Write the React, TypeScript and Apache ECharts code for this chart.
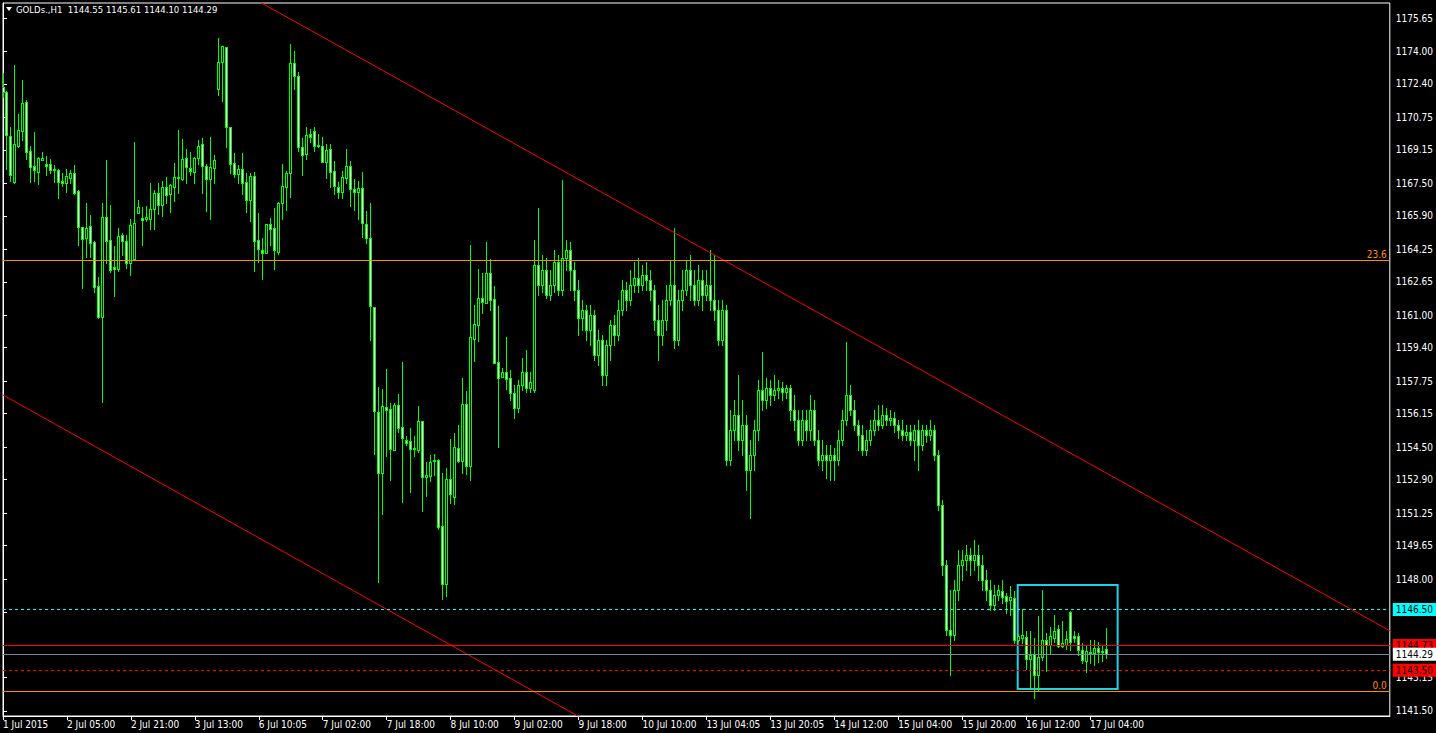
import React, { useEffect, useRef } from "react";
import * as echarts from "echarts";

const titleText = "GOLDs.,H1  1144.55 1145.61 1144.10 1144.29";

const openPrices = [
  1172.24, 1172.01, 1169.84, 1167.57, 1169.36, 1170.10, 1171.51, 1169.08, 1168.36, 1168.08,
  1168.67, 1168.46, 1168.44, 1168.20, 1168.16, 1167.62, 1167.53, 1167.78, 1168.00, 1167.13,
  1165.34, 1164.82, 1165.39, 1164.61, 1162.43, 1160.90, 1165.83, 1164.71, 1163.38, 1163.27,
  1164.96, 1164.65, 1163.56, 1163.79, 1166.06, 1165.80, 1165.75, 1165.76, 1166.22, 1167.01,
  1166.45, 1167.31, 1166.99, 1167.34, 1167.78, 1167.73, 1168.74, 1168.24, 1168.08, 1168.74,
  1169.43, 1168.34, 1167.70, 1168.24, 1172.14, 1173.50, 1174.21, 1170.27, 1168.49, 1167.98,
  1168.20, 1167.55, 1166.70, 1167.87, 1164.70, 1164.22, 1164.06, 1165.48, 1165.29, 1164.13,
  1166.55, 1167.34, 1168.00, 1173.43, 1172.81, 1169.28, 1168.94, 1169.94, 1170.07, 1169.38,
  1169.33, 1168.57, 1169.20, 1168.10, 1167.31, 1167.08, 1167.78, 1168.34, 1167.22, 1167.09,
  1167.26, 1165.48, 1164.79, 1161.39, 1156.25, 1153.21, 1156.46, 1156.37, 1154.35, 1156.56,
  1155.48, 1154.85, 1154.79, 1154.46, 1154.36, 1155.77, 1153.01, 1153.09, 1153.82, 1153.87,
  1150.61, 1147.74, 1152.92, 1152.06, 1154.44, 1153.83, 1156.63, 1153.59, 1159.85, 1160.52,
  1161.84, 1161.62, 1163.07, 1161.79, 1158.68, 1157.97, 1158.19, 1157.91, 1157.17, 1156.43,
  1157.56, 1158.20, 1157.42, 1157.32, 1163.48, 1162.49, 1163.23, 1162.00, 1162.49, 1163.63,
  1162.25, 1163.82, 1164.22, 1163.23, 1162.25, 1160.87, 1161.26, 1160.27, 1161.01, 1159.04,
  1159.78, 1158.06, 1159.54, 1160.52, 1160.03, 1161.26, 1162.25, 1161.75, 1162.49, 1162.84,
  1162.49, 1162.99, 1162.74, 1162.25, 1160.77, 1160.03, 1160.77, 1161.75, 1162.49, 1159.78,
  1161.75, 1162.25, 1163.23, 1162.49, 1161.75, 1162.74, 1162.00, 1162.49, 1161.75, 1161.26,
  1159.78, 1161.26, 1153.87, 1155.35, 1156.09, 1154.85, 1155.59, 1153.37, 1154.11, 1155.35,
  1157.32, 1156.82, 1157.42, 1157.07, 1157.32, 1157.42, 1157.22, 1157.42, 1156.33, 1155.84,
  1154.85, 1155.84, 1155.35, 1156.33, 1154.85, 1153.87, 1154.11, 1153.87, 1154.11, 1153.87,
  1154.85, 1155.84, 1157.07, 1156.33, 1155.59, 1155.10, 1154.36, 1154.85, 1155.35, 1155.84,
  1155.59, 1156.09, 1155.84, 1155.94, 1155.59, 1155.35, 1155.10, 1155.25, 1154.85, 1155.35,
  1154.61, 1155.35, 1155.10, 1155.35, 1154.11, 1151.65, 1148.69, 1145.49, 1145.24, 1147.46,
  1148.69, 1148.94, 1149.18, 1148.94, 1149.18, 1148.69, 1147.95, 1147.46, 1146.72, 1147.21,
  1147.41, 1147.16, 1146.97, 1147.05, 1144.99, 1145.11, 1145.13, 1144.04, 1144.30, 1143.25,
  1144.14, 1144.98, 1144.76, 1145.11, 1145.52, 1144.70, 1144.76, 1146.38, 1145.19, 1145.18,
  1144.49, 1143.95, 1144.40, 1144.37, 1144.60, 1144.45, 1144.55,
];

const closePrices = [
  1172.01, 1169.87, 1167.93, 1169.44, 1170.13, 1171.46, 1169.06, 1168.32, 1168.18, 1168.75,
  1168.75, 1168.37, 1168.15, 1168.15, 1167.58, 1167.52, 1167.87, 1168.00, 1167.04, 1165.34,
  1164.78, 1165.30, 1164.58, 1162.41, 1160.93, 1165.83, 1164.68, 1163.23, 1163.28, 1164.89,
  1164.68, 1163.56, 1165.43, 1165.53, 1166.34, 1165.71, 1165.84, 1166.22, 1167.01, 1166.45,
  1167.32, 1166.94, 1167.42, 1167.80, 1167.82, 1168.69, 1168.29, 1168.10, 1168.75, 1169.34,
  1168.34, 1167.70, 1168.29, 1168.64, 1173.50, 1174.27, 1170.27, 1168.44, 1167.98, 1168.20,
  1167.53, 1166.70, 1167.87, 1164.65, 1164.25, 1164.06, 1165.48, 1165.27, 1164.20, 1166.53,
  1167.36, 1168.01, 1173.43, 1172.81, 1169.31, 1168.92, 1169.87, 1169.79, 1169.36, 1169.34,
  1168.57, 1169.13, 1168.08, 1167.36, 1167.08, 1167.82, 1168.34, 1167.21, 1167.09, 1167.26,
  1165.53, 1164.79, 1161.47, 1156.30, 1153.24, 1156.51, 1156.35, 1154.39, 1156.58, 1155.43,
  1154.94, 1154.69, 1154.42, 1154.39, 1155.77, 1153.01, 1153.11, 1153.75, 1153.87, 1150.58,
  1147.74, 1152.92, 1152.18, 1154.49, 1153.83, 1156.63, 1153.59, 1159.92, 1160.56, 1161.84,
  1161.67, 1163.07, 1161.74, 1158.63, 1157.89, 1158.19, 1157.87, 1157.17, 1156.43, 1157.56,
  1158.20, 1157.42, 1157.71, 1163.48, 1162.49, 1163.23, 1162.00, 1162.49, 1163.63, 1162.25,
  1163.82, 1164.22, 1163.23, 1162.25, 1160.87, 1161.26, 1160.27, 1161.01, 1159.04, 1159.78,
  1158.06, 1159.54, 1160.52, 1160.03, 1161.26, 1162.25, 1161.75, 1162.49, 1162.84, 1162.49,
  1162.99, 1162.74, 1162.25, 1160.77, 1160.03, 1160.77, 1161.75, 1162.49, 1159.78, 1161.75,
  1162.25, 1163.23, 1162.49, 1161.75, 1162.74, 1162.00, 1162.49, 1161.75, 1161.26, 1159.78,
  1161.26, 1153.87, 1155.35, 1156.09, 1154.85, 1155.59, 1153.37, 1154.11, 1155.35, 1157.32,
  1156.82, 1157.42, 1157.07, 1157.32, 1157.42, 1157.22, 1157.42, 1156.33, 1155.84, 1154.85,
  1155.84, 1155.35, 1156.33, 1154.85, 1153.87, 1154.11, 1153.87, 1154.11, 1153.87, 1154.85,
  1155.84, 1157.07, 1156.33, 1155.59, 1155.10, 1154.36, 1154.85, 1155.35, 1155.84, 1155.59,
  1156.09, 1155.84, 1155.94, 1155.59, 1155.35, 1155.10, 1155.25, 1154.85, 1155.35, 1154.61,
  1155.35, 1155.10, 1155.35, 1154.11, 1151.65, 1148.69, 1145.49, 1145.24, 1147.46, 1148.69,
  1148.94, 1149.18, 1148.94, 1149.18, 1148.69, 1147.95, 1147.46, 1146.72, 1147.21, 1147.46,
  1147.13, 1146.93, 1147.11, 1144.99, 1145.19, 1145.23, 1144.04, 1144.24, 1143.25, 1144.14,
  1144.98, 1144.76, 1145.18, 1145.42, 1144.70, 1144.83, 1145.03, 1144.90, 1145.11, 1144.49,
  1144.01, 1144.44, 1144.37, 1144.60, 1144.42, 1144.42, 1144.29,
];

const lowPrices = [
  1171.77, 1168.22, 1167.63, 1167.53, 1169.31, 1169.64, 1168.70, 1167.58, 1167.63, 1167.49,
  1168.67, 1167.93, 1168.03, 1167.57, 1166.80, 1167.39, 1167.08, 1167.53, 1166.98, 1164.46,
  1162.36, 1163.87, 1163.87, 1162.16, 1160.87, 1156.73, 1163.56, 1163.15, 1161.97, 1163.20,
  1163.96, 1163.32, 1162.99, 1163.79, 1166.06, 1164.46, 1165.66, 1165.25, 1165.25, 1165.99,
  1165.89, 1166.52, 1166.09, 1166.63, 1167.04, 1167.68, 1167.53, 1167.93, 1167.53, 1168.47,
  1167.03, 1166.14, 1165.76, 1167.53, 1171.86, 1171.58, 1169.31, 1168.03, 1167.82, 1167.53,
  1166.99, 1166.11, 1165.66, 1163.20, 1163.64, 1162.77, 1164.06, 1164.46, 1163.30, 1164.02,
  1165.76, 1166.20, 1166.84, 1172.15, 1169.10, 1167.93, 1168.69, 1169.53, 1169.08, 1169.31,
  1168.56, 1167.75, 1167.31, 1166.99, 1166.80, 1166.80, 1167.53, 1166.39, 1166.19, 1165.75,
  1164.87, 1164.55, 1159.78, 1154.16, 1147.87, 1151.20, 1154.08, 1152.90, 1154.35, 1155.26,
  1151.81, 1154.61, 1152.30, 1154.08, 1154.28, 1151.37, 1152.11, 1152.85, 1153.13, 1150.47,
  1147.00, 1147.18, 1151.76, 1151.70, 1153.75, 1153.21, 1153.18, 1152.88, 1158.76, 1159.75,
  1161.13, 1161.62, 1161.26, 1158.63, 1154.52, 1157.97, 1157.38, 1156.82, 1155.94, 1156.23,
  1157.32, 1157.22, 1157.22, 1157.22, 1162.00, 1162.15, 1161.85, 1161.75, 1162.15, 1162.00,
  1162.00, 1163.23, 1162.25, 1161.75, 1160.03, 1160.27, 1159.78, 1159.54, 1158.80, 1158.55,
  1157.56, 1157.56, 1158.80, 1159.54, 1159.78, 1161.01, 1161.26, 1161.51, 1162.15, 1162.15,
  1162.25, 1162.25, 1161.75, 1160.27, 1158.80, 1159.54, 1160.27, 1161.51, 1159.39, 1159.54,
  1161.26, 1162.00, 1161.75, 1161.51, 1161.51, 1161.26, 1161.75, 1161.26, 1160.77, 1159.54,
  1159.54, 1153.62, 1153.62, 1154.85, 1154.36, 1154.11, 1152.39, 1151.01, 1153.37, 1154.85,
  1156.33, 1156.43, 1156.58, 1156.82, 1156.92, 1156.82, 1156.92, 1155.84, 1155.35, 1154.61,
  1154.61, 1154.85, 1154.85, 1154.61, 1153.62, 1153.37, 1152.98, 1152.88, 1152.88, 1153.62,
  1154.61, 1155.59, 1156.09, 1155.35, 1154.36, 1154.11, 1154.11, 1154.61, 1155.10, 1155.35,
  1155.44, 1155.59, 1155.59, 1155.25, 1154.95, 1154.85, 1154.85, 1154.61, 1153.87, 1153.37,
  1154.36, 1154.75, 1154.85, 1153.87, 1151.40, 1148.20, 1145.24, 1143.27, 1144.99, 1146.97,
  1147.95, 1148.44, 1148.20, 1148.44, 1147.95, 1147.46, 1146.97, 1146.47, 1146.47, 1146.97,
  1146.80, 1146.31, 1146.23, 1144.83, 1144.95, 1144.83, 1143.57, 1142.69, 1142.12, 1142.53,
  1144.01, 1143.48, 1144.34, 1144.91, 1144.64, 1144.64, 1144.54, 1144.50, 1144.91, 1144.26,
  1143.85, 1143.43, 1143.85, 1143.76, 1143.93, 1143.97, 1144.10,
];

const highPrices = [
  1172.96, 1172.05, 1170.28, 1173.34, 1170.92, 1172.60, 1171.61, 1169.34, 1170.03, 1168.82,
  1169.05, 1168.85, 1168.70, 1168.41, 1168.20, 1168.00, 1168.20, 1168.16, 1168.41, 1167.18,
  1165.34, 1166.53, 1165.94, 1164.68, 1162.89, 1166.53, 1168.65, 1166.44, 1164.41, 1165.30,
  1165.06, 1164.96, 1165.75, 1169.54, 1166.68, 1166.34, 1166.39, 1167.52, 1167.18, 1167.51,
  1167.62, 1167.82, 1167.49, 1168.51, 1170.13, 1169.70, 1169.20, 1169.05, 1168.82, 1169.64,
  1169.75, 1168.44, 1169.79, 1168.90, 1174.65, 1174.27, 1174.21, 1170.27, 1168.98, 1168.41,
  1168.98, 1168.03, 1168.00, 1168.05, 1166.06, 1164.82, 1165.48, 1165.78, 1166.27, 1166.58,
  1168.44, 1168.10, 1174.37, 1174.01, 1172.98, 1169.72, 1170.30, 1170.20, 1170.27, 1169.92,
  1169.80, 1169.44, 1169.44, 1168.60, 1167.55, 1168.11, 1169.20, 1168.60, 1167.72, 1167.62,
  1168.06, 1166.12, 1166.53, 1161.39, 1157.45, 1157.35, 1158.34, 1156.68, 1156.68, 1157.12,
  1158.70, 1155.05, 1155.44, 1155.05, 1156.53, 1155.77, 1153.75, 1154.11, 1154.16, 1153.93,
  1153.21, 1153.49, 1154.90, 1155.21, 1155.59, 1157.92, 1157.27, 1164.46, 1161.51, 1163.28,
  1163.10, 1164.60, 1163.77, 1162.44, 1161.46, 1158.42, 1159.94, 1158.30, 1157.56, 1157.81,
  1158.89, 1159.29, 1158.20, 1164.71, 1166.29, 1163.97, 1163.82, 1163.23, 1164.22, 1163.97,
  1167.67, 1164.71, 1164.61, 1163.63, 1162.74, 1161.75, 1161.51, 1161.51, 1161.26, 1160.27,
  1160.03, 1159.78, 1160.77, 1161.01, 1161.75, 1162.74, 1162.64, 1163.23, 1163.63, 1163.82,
  1163.48, 1163.63, 1163.23, 1162.49, 1161.51, 1161.75, 1162.49, 1163.73, 1165.30, 1162.25,
  1163.23, 1163.73, 1163.97, 1163.23, 1163.48, 1163.23, 1163.23, 1164.22, 1163.97, 1161.75,
  1161.75, 1161.51, 1156.33, 1156.82, 1158.06, 1156.82, 1156.09, 1154.85, 1155.84, 1157.81,
  1159.19, 1157.91, 1157.81, 1158.06, 1157.81, 1157.71, 1157.56, 1157.56, 1157.07, 1156.33,
  1156.33, 1156.33, 1157.07, 1156.82, 1155.35, 1154.85, 1154.61, 1154.61, 1154.46, 1155.35,
  1156.33, 1159.68, 1157.56, 1156.82, 1155.84, 1155.59, 1155.35, 1155.84, 1156.33, 1156.58,
  1156.58, 1156.43, 1156.33, 1156.23, 1155.84, 1155.84, 1155.59, 1155.59, 1155.59, 1155.84,
  1155.59, 1155.59, 1155.84, 1155.59, 1154.36, 1151.90, 1148.94, 1147.46, 1147.95, 1149.43,
  1149.43, 1149.68, 1149.53, 1149.92, 1149.68, 1149.18, 1148.44, 1147.95, 1147.71, 1147.71,
  1147.95, 1147.30, 1147.66, 1147.42, 1145.29, 1146.51, 1145.44, 1145.44, 1145.08, 1146.18,
  1147.46, 1145.33, 1145.65, 1146.23, 1145.73, 1145.93, 1145.44, 1146.41, 1145.44, 1145.33,
  1144.83, 1144.75, 1144.99, 1144.99, 1144.90, 1144.75, 1145.61,
];

const xTickLabels = [
  "1 Jul 2015", "2 Jul 05:00", "2 Jul 21:00", "3 Jul 13:00", "6 Jul 10:05", "7 Jul 02:00",
  "7 Jul 18:00", "8 Jul 10:00", "9 Jul 02:00", "9 Jul 18:00", "10 Jul 10:00", "13 Jul 04:05",
  "13 Jul 20:05", "14 Jul 12:00", "15 Jul 04:00", "15 Jul 20:00", "16 Jul 12:00", "17 Jul 04:00",
];
const barsPerLabel = 16;
const totalSlots = 348;

const yTickValues = [
  1175.65, 1174.0, 1172.4, 1170.75, 1169.15, 1167.5, 1165.9, 1164.25, 1162.65, 1161.0, 1159.4,
  1157.75, 1156.15, 1154.5, 1152.9, 1151.25, 1149.65, 1148.0, 1146.35, 1144.75, 1143.15, 1141.5,
];
// labels hidden behind the price tags in the reference
const yHiddenLabels = [1146.35, 1144.75];
const yMin = 1141.25;
const yMax = 1176.39;

const fiboLabels = ["23.6", "0.0"];
const fiboPrices = [1163.72, 1142.48];

const levelPrices = [1146.5, 1144.73, 1144.29, 1143.5];
const levelColors = ["#00FFFF", "#FF0000", "#778899", "#FF0000"];
const levelTagColors = ["#00FFFF", "#FF0000", "#FFFFFF", "#FF0000"];
const levelDashed = [true, false, false, true];

const upperTrend = [[50, 1178.0], [348, 1145.34]];
const lowerTrend = [[0, 1157.07], [150, 1140.57]];
const boxCorners = [[253.9, 1147.71], [278.9, 1142.58]];

const LIME = "#00FF00";
const BULL_FILL = "#000000";
const BEAR_FILL = "#FFFFFF";
const FONT = "'Liberation Sans Narrow', 'DejaVu Sans Condensed', 'Liberation Sans', sans-serif";

export default function App() {
  const ref = useRef<HTMLDivElement>(null);

  useEffect(() => {
    if (!ref.current) return;
    const chart = echarts.init(ref.current, null, { renderer: "svg" });
    const categories = Array.from({ length: totalSlots }, (_, i) => String(i));
    const candles = openPrices.map((o, i) => [i, o, closePrices[i], lowPrices[i], highPrices[i]]);
    const isLabelIdx = (idx: number) => idx % barsPerLabel === 0 && idx / barsPerLabel < xTickLabels.length;
    const yLabelValues = yTickValues.filter((v) => !yHiddenLabels.includes(v));

    const markLines: any[] = [];
    fiboPrices.forEach((p, k) => {
      markLines.push({
        yAxis: p,
        lineStyle: { color: "#FF8C00", width: 1, type: "solid" },
        label: {
          show: true,
          position: "insideEndTop",
          formatter: fiboLabels[k],
          color: "#FF8C00",
          fontSize: 10,
          fontFamily: FONT,
          distance: [3, 1],
        },
      });
    });
    levelPrices.forEach((p, k) => {
      markLines.push({
        yAxis: p,
        lineStyle: { color: levelColors[k], width: 1, type: levelDashed[k] ? [3, 3] : "solid" },
        label: {
          show: true,
          position: "end",
          formatter: p.toFixed(2),
          color: "#000",
          backgroundColor: levelTagColors[k],
          padding: [2, 3, 1, 3],
          fontSize: 10,
          fontFamily: FONT,
          distance: 3,
        },
      });
    });

    const renderCandle = (_params: any, api: any) => {
      const i = api.value(0);
      const o = api.value(1);
      const c = api.value(2);
      const l = api.value(3);
      const h = api.value(4);
      const pO = api.coord([i, o]);
      const pC = api.coord([i, c]);
      const pL = api.coord([i, l]);
      const pH = api.coord([i, h]);
      const cx = Math.floor(pO[0]);
      const yTop = Math.round(Math.min(pO[1], pC[1]));
      const yBot = Math.round(Math.max(pO[1], pC[1]));
      const yHi = Math.round(pH[1]);
      const yLo = Math.round(pL[1]);
      const children: any[] = [
        {
          type: "rect",
          shape: { x: cx, y: yHi, width: 1, height: Math.max(1, yLo - yHi + 1) },
          style: { fill: LIME },
        },
        {
          type: "rect",
          shape: { x: cx - 1, y: yTop, width: 3, height: Math.max(1, yBot - yTop + 1) },
          style: { fill: LIME },
        },
      ];
      if (yBot - yTop >= 2) {
        children.push({
          type: "rect",
          shape: { x: cx, y: yTop + 1, width: 1, height: yBot - yTop - 1 },
          style: { fill: c >= o ? BULL_FILL : BEAR_FILL },
        });
      }
      return { type: "group", children };
    };

    chart.setOption({
      animation: false,
      backgroundColor: "#000",
      grid: {
        left: 3,
        right: 43,
        top: 3,
        bottom: 17,
        show: true,
        borderColor: "#FFFFFF",
        borderWidth: 1,
      },
      graphic: [
        {
          type: "polygon",
          shape: { points: [[6, 7], [12, 7], [9, 11]] },
          style: { fill: "#FFFFFF" },
        },
        {
          type: "text",
          x: 16,
          y: 4,
          style: { text: titleText, fill: "#FFFFFF", fontSize: 9.5, fontFamily: FONT },
        },
      ],
      xAxis: [
        {
          type: "category",
          data: categories,
          boundaryGap: false,
          axisLine: { lineStyle: { color: "#FFFFFF", width: 1 } },
          axisTick: {
            show: true,
            interval: (idx: number) => isLabelIdx(idx),
            length: 4,
            lineStyle: { color: "#FFFFFF" },
          },
          axisLabel: {
            interval: (idx: number) => isLabelIdx(idx),
            formatter: (v: string) => xTickLabels[Number(v) / barsPerLabel] ?? "",
            color: "#FFFFFF",
            fontSize: 10,
            fontFamily: FONT,
            align: "left",
            margin: 3,
          },
          splitLine: { show: false },
        },
        {
          type: "value",
          min: 0,
          max: totalSlots - 1,
          show: false,
        },
      ],
      yAxis: {
        type: "value",
        position: "right",
        min: yMin,
        max: yMax,
        axisLine: { show: true, lineStyle: { color: "#FFFFFF" } },
        axisTick: { show: true, customValues: yTickValues, length: 4, lineStyle: { color: "#FFFFFF" } },
        axisLabel: {
          customValues: yLabelValues,
          formatter: (v: number) => v.toFixed(2),
          color: "#FFFFFF",
          fontSize: 10,
          fontFamily: FONT,
          margin: 6,
        },
        splitLine: { show: false },
      },
      series: [
        {
          type: "custom",
          xAxisIndex: 0,
          yAxisIndex: 0,
          data: candles,
          encode: { x: 0, y: [1, 2, 3, 4] },
          renderItem: renderCandle,
          clip: true,
          silent: true,
          markLine: {
            silent: true,
            symbol: ["none", "none"],
            animation: false,
            data: markLines,
          },
        },
        {
          type: "line",
          xAxisIndex: 1,
          yAxisIndex: 0,
          data: upperTrend,
          symbol: "none",
          lineStyle: { color: "#FF0000", width: 1 },
          clip: true,
          silent: true,
          markArea: {
            silent: true,
            itemStyle: { color: "rgba(0,0,0,0)", borderColor: "#1BD3E8", borderWidth: 2 },
            data: [[{ coord: boxCorners[0] }, { coord: boxCorners[1] }]],
          },
        },
        {
          type: "line",
          xAxisIndex: 1,
          yAxisIndex: 0,
          data: lowerTrend,
          symbol: "none",
          lineStyle: { color: "#FF0000", width: 1 },
          clip: true,
          silent: true,
        },
      ],
    });
    return () => chart.dispose();
  }, []);

  return (
    <div
      ref={ref}
      style={{ position: "fixed", left: 0, top: 0, width: 1436, height: 733, background: "#000" }}
    />
  );
}
